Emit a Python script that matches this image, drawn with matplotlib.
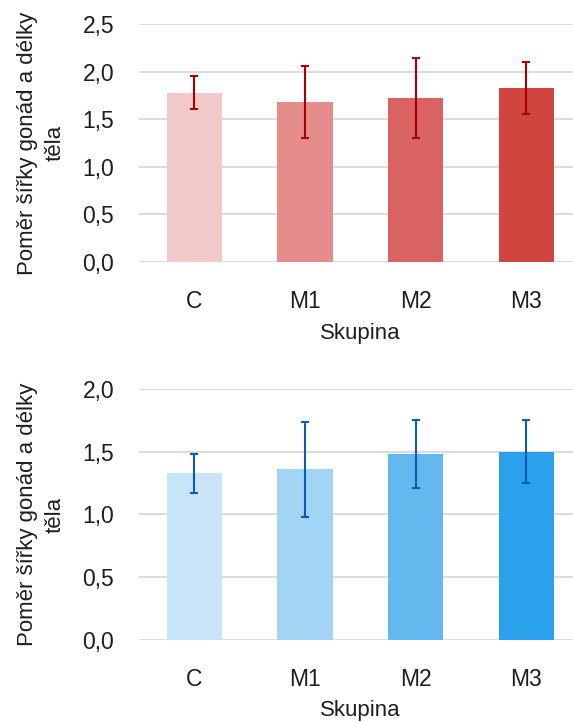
import numpy as np
import matplotlib
matplotlib.use("Agg")
import matplotlib.pyplot as plt

plt.rcParams['font.family'] = ['Liberation Sans Narrow', 'Liberation Sans', 'DejaVu Sans']

groups = ['C', 'M1', 'M2', 'M3']

# horni graf (cervena)
red_means = [1.78, 1.68, 1.72, 1.83]
red_err = [0.17, 0.375, 0.42, 0.27]
red_colors = ['#F2C8C8', '#E58D8B', '#D96262', '#D0463F']
red_err_color = '#A80000'

# dolni graf (modra)
blue_means = [1.33, 1.36, 1.48, 1.50]
blue_err = [0.155, 0.38, 0.27, 0.25]
blue_colors = ['#C8E5F8', '#A2D4F4', '#63B8EE', '#2AA1EA']
blue_err_color = '#0A5CB8'

ylabel = 'Poměr šířky gonád a délky\ntěla'
xlabel = 'Skupina'
txt = '#1E1E1E'


def draw(ax, means, err, colors, ecolor, ymax):
    x = np.arange(len(groups))
    ax.bar(x, means, width=0.5, color=colors, zorder=2)
    ax.errorbar(x, means, yerr=err, fmt='none', ecolor=ecolor,
                elinewidth=1.5, capsize=2.8, capthick=1.5, zorder=3)
    ax.set_xlim(-0.5, 3.5)
    ax.set_ylim(0, ymax)
    ticks = np.arange(0, ymax + 0.01, 0.5)
    ax.set_yticks(ticks)
    ax.set_yticklabels([f'{v:.1f}'.replace('.', ',') for v in ticks])
    ax.set_xticks(x)
    ax.set_xticklabels(groups)
    ax.grid(axis='y', color='#D9D9D9', linewidth=1.3, zorder=0)
    ax.set_axisbelow(True)
    for s in ax.spines.values():
        s.set_visible(False)
    ax.tick_params(axis='both', length=0, labelsize=16.5, colors=txt)
    ax.tick_params(axis='y', pad=18)
    ax.tick_params(axis='x', pad=20)
    ax.set_xlabel(xlabel, fontsize=16, color=txt, labelpad=7)
    ax.set_ylabel(ylabel, fontsize=16, color=txt, labelpad=12, linespacing=1.4)


fig = plt.figure(figsize=(5.73, 7.22), dpi=100)
ax1 = fig.add_axes([0.2426, 0.637, 0.7728, 0.3297])
ax2 = fig.add_axes([0.2426, 0.1136, 0.7728, 0.3476])

draw(ax1, red_means, red_err, red_colors, red_err_color, 2.5)
draw(ax2, blue_means, blue_err, blue_colors, blue_err_color, 2.0)

fig.savefig('out.png', dpi=100)
